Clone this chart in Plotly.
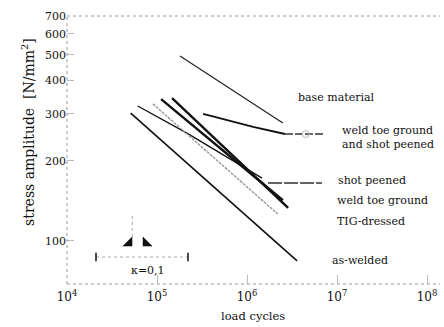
import numpy as np
import plotly.graph_objects as go

# ---------------- data ----------------
BASE_N = [1.8e5, 2.5e6]
BASE_S = [495, 277]

WTG_SP_N = [3.25e5, 1.17e6, 2.64e6]
WTG_SP_S = [300, 268, 252]

SP_N = [6.1e4, 2.15e5, 1.47e6]
SP_S = [321, 254, 172]

WTG1_N = [1.11e5, 2.5e6]
WTG1_S = [341, 142]
WTG2_N = [1.47e5, 2.86e6]
WTG2_S = [344, 133]

TIG_N = [9.0e4, 2.2e6]
TIG_S = [327, 126]

AW_N = [5.1e4, 3.6e6]
AW_S = [302, 84]

# leaders from curve ends to labels
LEAD_WTGSP_N = [2.64e6, 7.0e6]
LEAD_WTGSP_S = [252, 252]
LEAD_WTGSP_CIRCLE = (4.5e6, 252)
LEAD_SP_N = [1.71e6, 6.8e6]
LEAD_SP_S = [165, 165]

LABELS = ["base material", "weld toe ground<br>and shot peened", "shot peened",
          "weld toe ground", "TIG-dressed", "as-welded"]
LABEL_N = [3.5e6, 1.08e7, 9.75e6, 9.6e6, 9.6e6, 8.4e6]
LABEL_S = [345, 244, 169, 142, 118.5, 84]

Y_TICKS = [100, 200, 300, 400, 500, 600, 700]
X_TICKS = [1e4, 1e5, 1e6, 1e7, 1e8]
X_TICK_TEXT = ["10<sup>4</sup>", "10<sup>5</sup>", "10<sup>6</sup>",
               "10<sup>7</sup>", "10<sup>8</sup>"]
X_TITLE = "load cycles"
Y_TITLE = "stress amplitude  [N/mm<sup>2</sup>]"

# kappa (load ratio) symbol
TRI_L_N = [4.19e4, 5.28e4, 5.28e4, 4.19e4]
TRI_L_S = [95.5, 95.5, 103.3, 95.5]
TRI_R_N = [6.99e4, 8.8e4, 6.99e4, 6.99e4]
TRI_R_S = [95.5, 95.5, 103.3, 95.5]
KAPPA_VLINE_N = [5.3e4, 5.3e4]
KAPPA_VLINE_S = [103.3, 127]
KAPPA_HLINE_N = [2.1e4, 2.21e5]
KAPPA_HLINE_S = [86.9, 86.9]
KAPPA_TEXT = "κ=0,1"
KAPPA_TEXT_POS = (7.9e4, 77.6)

FONT = "DejaVu Serif"
INK = "#111111"

fig = go.Figure()


def line(xs, ys, width=1.5, color=INK, dash="solid"):
    fig.add_trace(go.Scatter(x=xs, y=ys, mode="lines",
                             line=dict(color=color, width=width, dash=dash),
                             hoverinfo="skip", showlegend=False))


line(BASE_N, BASE_S, 1.2, "#222222")
line(WTG_SP_N, WTG_SP_S, 1.8)
line(SP_N, SP_S, 1.3)
line(TIG_N, TIG_S, 1.4, "#9a9a9a", "3px,1px")
line(WTG1_N, WTG1_S, 2.4)
line(WTG2_N, WTG2_S, 2.4)
line(AW_N, AW_S, 1.6)

# leaders
line(LEAD_WTGSP_N, LEAD_WTGSP_S, 1.5, "#333333", "8px,2px")
fig.add_trace(go.Scatter(x=[LEAD_WTGSP_CIRCLE[0]], y=[LEAD_WTGSP_CIRCLE[1]], mode="markers",
                         marker=dict(symbol="circle-open", size=7, color="#bbbbbb",
                                     line=dict(width=1)),
                         hoverinfo="skip", showlegend=False))
line(LEAD_SP_N, LEAD_SP_S, 1.5, "#333333", "14px,2px")

# kappa symbol
fig.add_trace(go.Scatter(x=TRI_L_N, y=TRI_L_S, mode="lines", fill="toself",
                         fillcolor=INK, line=dict(color=INK, width=0.5),
                         hoverinfo="skip", showlegend=False))
fig.add_trace(go.Scatter(x=TRI_R_N, y=TRI_R_S, mode="lines", fill="toself",
                         fillcolor=INK, line=dict(color=INK, width=0.5),
                         hoverinfo="skip", showlegend=False))
line(KAPPA_VLINE_N, KAPPA_VLINE_S, 1, "#aaaaaa", "dot")
line(KAPPA_HLINE_N, KAPPA_HLINE_S, 1, "#aaaaaa", "dot")
fig.add_trace(go.Scatter(x=KAPPA_HLINE_N, y=KAPPA_HLINE_S, mode="markers",
                         marker=dict(symbol="line-ns", size=6, color=INK,
                                     line=dict(width=1.5, color=INK)),
                         hoverinfo="skip", showlegend=False))

for txt, n, s in zip(LABELS, LABEL_N, LABEL_S):
    fig.add_annotation(x=np.log10(n), y=np.log10(s), text=txt, showarrow=False,
                       xanchor="left", yanchor="middle", align="left",
                       font=dict(family=FONT, size=11, color=INK))
fig.add_annotation(x=np.log10(KAPPA_TEXT_POS[0]), y=np.log10(KAPPA_TEXT_POS[1]),
                   text=KAPPA_TEXT, showarrow=False, xanchor="center", yanchor="middle",
                   font=dict(family=FONT, size=11, color=INK))

# axis titles placed as annotations (paper coordinates)
fig.add_annotation(xref="paper", yref="paper", x=0.499, y=-0.119, text=X_TITLE,
                   showarrow=False, xanchor="center", yanchor="middle",
                   font=dict(family=FONT, size=11.5, color=INK))
fig.add_annotation(xref="paper", yref="paper", x=-0.105, y=0.567, text=Y_TITLE,
                   textangle=-90, showarrow=False, xanchor="center", yanchor="middle",
                   font=dict(family=FONT, size=14, color=INK))

# dotted frame lines
frame = dict(color="#9a9a9a", width=1, dash="dot")
fig.add_shape(type="line", xref="paper", yref="paper", x0=0, x1=1, y0=1, y1=1, line=frame)
fig.add_shape(type="line", xref="paper", yref="paper", x0=0, x1=1, y0=0, y1=0, line=frame)
fig.add_shape(type="line", xref="paper", yref="paper", x0=0, x1=0, y0=0, y1=1, line=frame)

fig.update_xaxes(type="log", range=[4, 8.144], tickvals=X_TICKS, ticktext=X_TICK_TEXT,
                 ticklabeloverflow="allow", ticklabelstandoff=4,
                 showgrid=False, zeroline=False, showline=False,
                 ticks="inside", ticklen=9, tickcolor="#bbbbbb", tickwidth=1,
                 tickfont=dict(family=FONT, size=12, color=INK))
fig.update_yaxes(type="log", range=[1.8375, 2.845], tickvals=Y_TICKS,
                 ticktext=[str(v) for v in Y_TICKS],
                 showgrid=False, zeroline=False, showline=False,
                 ticks="inside", ticklen=7, tickcolor="#bbbbbb", tickwidth=1,
                 tickfont=dict(family=FONT, size=11, color=INK))

fig.update_layout(width=444, height=327, margin=dict(l=67, r=4, t=16, b=43),
                  font=dict(family=FONT),
                  paper_bgcolor="white", plot_bgcolor="white", showlegend=False)

fig.write_html("out.html")
